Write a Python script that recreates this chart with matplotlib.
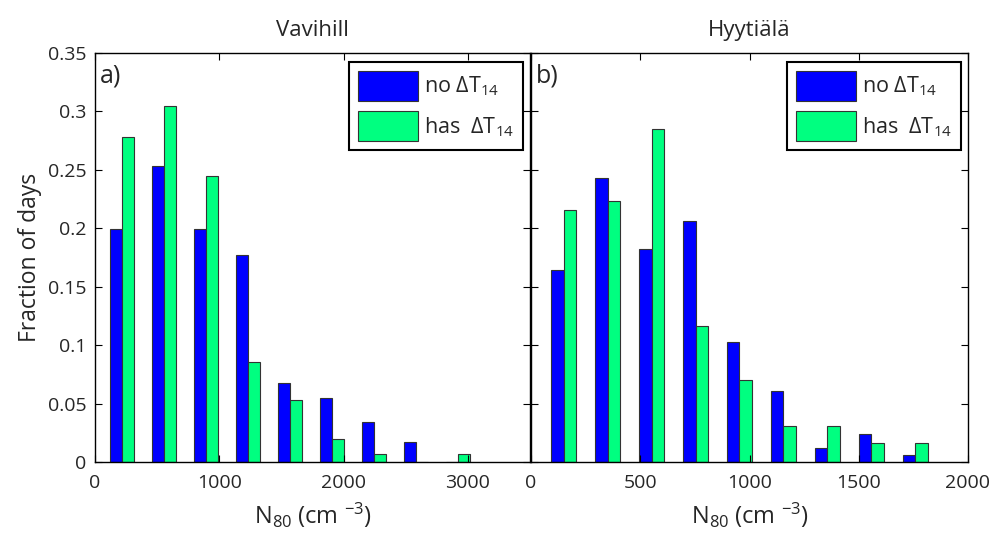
import matplotlib
matplotlib.use("Agg")
import matplotlib.pyplot as plt
import numpy as np

plt.rcParams['font.family'] = ['Open Sans', 'DejaVu Sans']
plt.rcParams['mathtext.fontset'] = 'custom'
plt.rcParams['mathtext.rm'] = 'Open Sans'
plt.rcParams['mathtext.it'] = 'Open Sans:italic'
plt.rcParams['mathtext.bf'] = 'Open Sans:bold'

# ---- data ----
titles = ["Vavihill", "Hyytiälä"]
panel_labels = ["a)", "b)"]
series_names = [r"no ΔT$_{14}$", r"has  ΔT$_{14}$"]

vav_centers = [216, 554, 892, 1230, 1568, 1906, 2244, 2582, 2920]
vav_no = [0.199, 0.253, 0.199, 0.177, 0.068, 0.055, 0.034, 0.017, 0.0]
vav_has = [0.278, 0.305, 0.245, 0.086, 0.053, 0.020, 0.0068, 0.0, 0.0068]

hyy_centers = [150, 351, 552, 753, 954, 1155, 1356, 1557, 1758]
hyy_no = [0.164, 0.243, 0.182, 0.206, 0.103, 0.061, 0.012, 0.024, 0.006]
hyy_has = [0.216, 0.223, 0.285, 0.116, 0.070, 0.031, 0.031, 0.016, 0.016]

xlims = [(0, 3500), (0, 2000)]
xticks = [[0, 1000, 2000, 3000], [0, 500, 1000, 1500, 2000]]
yticks = [0, 0.05, 0.1, 0.15, 0.2, 0.25, 0.3, 0.35]
ytick_labels = ["0", "0.05", "0.1", "0.15", "0.2", "0.25", "0.3", "0.35"]

col_no = "#0000ff"
col_has = "#00ff80"
txt_col = "#262626"

fig = plt.figure(figsize=(9.92, 5.40), dpi=100)
W, H = 992, 540
def ax_rect(x0, x1, y0, y1):
    return [x0 / W, 1 - y1 / H, (x1 - x0) / W, (y1 - y0) / H]

ax1 = fig.add_axes(ax_rect(95, 530, 53, 462))
ax2 = fig.add_axes(ax_rect(531, 968, 53, 462))

datasets = [(vav_centers, vav_no, vav_has), (hyy_centers, hyy_no, hyy_has)]
fs = 14
fl = 16.5
for i, (ax, (cen, no, has)) in enumerate(zip([ax1, ax2], datasets)):
    cen = np.asarray(cen, dtype=float)
    spacing = np.mean(np.diff(cen))
    w = spacing * 0.2857
    ax.bar(cen - w / 2, no, width=w, color=col_no, edgecolor="#333333",
           linewidth=0.8, label=series_names[0])
    ax.bar(cen + w / 2, has, width=w, color=col_has, edgecolor="#333333",
           linewidth=0.8, label=series_names[1])
    ax.set_xlim(*xlims[i])
    ax.set_ylim(0, 0.35)
    ax.set_xticks(xticks[i])
    ax.set_xticklabels([str(t) for t in xticks[i]])
    ax.set_yticks(yticks)
    if i == 0:
        ax.set_yticklabels(ytick_labels)
        ax.set_ylabel("Fraction of days", fontsize=fl, color=txt_col, labelpad=4)
    else:
        ax.set_yticklabels([])
    ax.tick_params(axis="x", pad=9)
    ax.tick_params(axis="y", pad=6)
    ax.tick_params(direction="in", top=True, right=True, length=5, width=0.8,
                   labelsize=fs, labelcolor=txt_col)
    for s in ax.spines.values():
        s.set_linewidth(1.0)
        s.set_color("black")
    ax.set_title(titles[i], fontsize=16, color=txt_col, pad=12)
    ax.set_xlabel(r"N$_{80}$ (cm $^{-3}$)", fontsize=17, color=txt_col, labelpad=6)
    ax.text(0.012, 0.975, panel_labels[i], transform=ax.transAxes, fontsize=18,
            color=txt_col, ha="left", va="top")
    leg = ax.legend(loc="upper right", bbox_to_anchor=(0.984, 0.978),
                    borderaxespad=0, fontsize=15.5, fancybox=False,
                    handlelength=2.8, handleheight=1.8, handletextpad=0.3,
                    labelspacing=0.45, borderpad=0.4, framealpha=1)
    leg.get_frame().set_edgecolor("black")
    leg.get_frame().set_linewidth(1.5)
    for t in leg.get_texts():
        t.set_color(txt_col)

fig.savefig("out.png", dpi=100)
